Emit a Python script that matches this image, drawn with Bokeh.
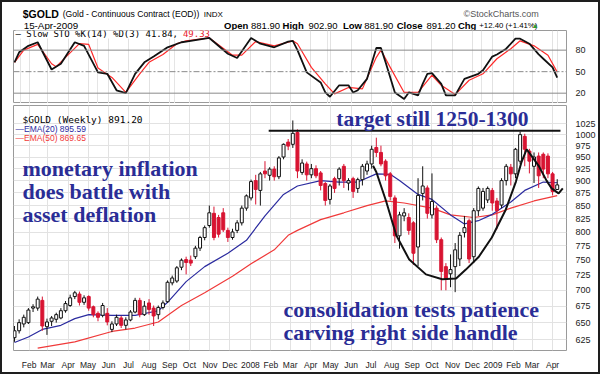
import pandas as pd
from bokeh.plotting import figure
from bokeh.layouts import column
from bokeh.models import ColumnDataSource, Range1d, FixedTicker, Grid, Span, BasicTickFormatter
from bokeh.core.properties import value
from bokeh.embed import file_html
from bokeh.resources import INLINE

# ---------------- data ----------------
first_week = "2007-01-19"   # week-ending date of the first weekly bar

opens = [628, 638, 648, 650, 672, 672, 684, 644, 652, 655,
         657, 668, 676, 690, 694, 681, 690, 674, 664, 661,
         664, 640, 648, 657, 646, 654, 666, 684, 662, 680,
         672, 662, 673, 682, 712, 715, 738, 751, 750, 756,
         771, 790, 812, 835, 827, 836, 803, 790, 803, 817,
         845, 865, 900, 880, 920, 911, 924, 908, 950, 983,
         978, 1005, 917, 935, 912, 925, 916, 894, 862, 904,
         904, 930, 895, 904, 884, 902, 920, 935, 971, 960,
         941, 914, 865, 793, 830, 827, 817, 773, 874, 885,
         832, 845, 786, 739, 727, 739, 752, 799, 821, 756,
         840, 845, 861, 880, 859, 851, 900, 928, 914, 941,
         996, 963, 930, 952, 956, 952, 914, 881.9]
highs = [645, 655, 662, 672, 678, 690, 690, 656, 660, 665,
         672, 683, 693, 699, 698, 692, 692, 676, 667, 680,
         672, 652, 662, 660, 658, 669, 688, 688, 683, 686,
         676, 676, 684, 716, 724, 740, 753, 756, 758, 775,
         793, 812, 850, 848, 832, 845, 808, 806, 822, 850,
         872, 902, 912, 918, 941, 928, 930, 952, 980, 990,
         1033, 1012, 945, 940, 935, 932, 920, 897, 893, 908,
         928, 935, 905, 908, 906, 935, 942, 975, 993, 975,
         945, 918, 870, 838, 845, 835, 820, 905, 930, 890,
         915, 850, 790, 745, 760, 780, 800, 830, 825, 845,
         888, 885, 888, 885, 865, 905, 935, 935, 970, 1007,
         1002, 968, 960, 960, 960, 958, 918, 902.9]
lows = [622, 634, 643, 648, 666, 668, 638, 632, 645, 650,
        655, 665, 674, 686, 676, 677, 668, 658, 652, 658,
        646, 636, 645, 642, 640, 652, 664, 658, 660, 662,
        645, 655, 670, 680, 708, 712, 733, 726, 740, 752,
        766, 785, 808, 785, 790, 800, 782, 786, 798, 812,
        840, 860, 852, 850, 905, 900, 900, 903, 945, 965,
        970, 905, 912, 900, 905, 905, 880, 850, 852, 875,
        890, 885, 880, 865, 875, 890, 912, 925, 950, 930,
        900, 860, 780, 770, 820, 795, 742, 740, 860, 825,
        825, 780, 700, 700, 705, 697, 740, 790, 745, 745,
        830, 840, 855, 840, 805, 845, 890, 890, 905, 935,
        930, 915, 895, 885, 905, 905, 870, 881.9]
closes = [638, 650, 658, 669, 674, 686, 645, 651, 657, 662,
          668, 679, 688, 696, 681, 688, 672, 662, 658, 676,
          651, 648, 658, 646, 654, 666, 684, 662, 675, 670,
          660, 673, 680, 713, 720, 737, 750, 746, 745, 771,
          790, 808, 836, 790, 796, 804, 790, 800, 817, 845,
          869, 898, 882, 914, 914, 924, 908, 948, 978, 974,
          1003, 920, 937, 912, 925, 910, 890, 860, 889, 884,
          924, 900, 900, 878, 902, 930, 935, 967, 960, 935,
          910, 868, 793, 832, 836, 803, 762, 870, 889, 835,
          858, 786, 731, 719, 734, 768, 794, 808, 752, 840,
          884, 878, 884, 855, 840, 900, 930, 914, 967, 1000,
          967, 941, 950, 910, 924, 914, 878, 891.2]

ema20_week = [0, 3, 6, 10, 13, 16, 21, 26, 31, 33, 37, 41, 46, 50, 54, 58, 61,
              66, 70, 74, 78, 81, 83, 87, 90, 94, 97, 100, 103, 107, 110, 114, 117]
ema20 = [621, 629, 640, 646, 656, 662, 661, 661, 668, 681, 714, 739, 762, 785, 830, 872, 889,
         900, 897, 897, 914, 913, 900, 872, 862, 832, 815, 821, 833, 857, 880, 897, 895.59]
ema50_week = [5, 13, 21, 26, 31, 36, 41, 47, 51, 56, 59, 61, 66, 71, 76, 80, 84, 90,
              94, 99, 103, 107, 112, 117]
ema50 = [613, 622, 637, 642, 651, 676, 696, 723, 744, 768, 794, 803, 823, 836, 850, 859, 855, 845,
         832, 827, 832, 845, 859, 869.65]

sto_k_week = [0, 1, 3, 5, 8, 10, 13, 15, 18, 20, 22, 24, 26, 28, 30, 33, 36, 37, 40, 42,
              46, 48, 51, 53, 56, 59, 60, 61, 63, 66, 67, 68, 70, 72, 73, 74, 76, 78, 79, 80,
              82, 84, 85, 87, 88, 89, 90, 92, 93, 95, 97, 100, 101, 103, 104, 106, 108, 109,
              111, 113, 114, 116, 117]
sto_k = [63, 77, 86, 91, 53, 61, 91, 86, 49, 47, 24, 20, 47, 63, 71, 84, 91, 92, 95, 97,
         75, 69, 97, 89, 84, 92, 93, 80, 49, 35, 21, 15, 31, 31, 21, 24, 40, 83, 83, 63,
         21, 12, 21, 17, 33, 47, 48, 33, 17, 17, 40, 47, 52, 71, 74, 82, 96, 96,
         89, 74, 68, 56, 41.84]
sto_d_week = [0, 2, 5, 8, 9, 11, 14, 16, 18, 21, 24, 27, 29, 32, 35, 37, 42, 47, 49, 52,
              56, 60, 61, 64, 67, 69, 72, 75, 78, 79, 81, 84, 87, 90, 92, 95, 98, 101, 104, 107,
              109, 112, 115, 117]
sto_d = [63, 80, 88, 61, 57, 70, 89, 88, 55, 42, 21, 47, 63, 74, 89, 93, 97, 73, 73, 92,
         86, 93, 89, 56, 33, 19, 28, 26, 70, 80, 56, 21, 21, 45, 31, 18, 38, 47, 68, 82,
         93, 86, 73, 49.33]

# hand-drawn cup & handle and the target line (week number, price)
cup_week = [77.3, 78.0, 80.1, 82.3, 85.1, 88.7, 92.2, 95.2, 97.3, 100.1, 102.9, 105.9,
            108.1, 109.3, 110.4, 111.5, 113.0, 114.7, 115.8, 117.3, 118.2]
cup_price = [931, 918, 859, 794, 751, 726, 718, 719, 734, 756, 790, 842,
             898, 939, 967, 952, 931, 900, 884, 874, 884]
target_week = [54.8, 117.7]
target_price = [1009, 1009]

month_dates = ["2007-02-10", "2007-03-10", "2007-04-10", "2007-05-10", "2007-06-10", "2007-07-10",
               "2007-08-10", "2007-09-10", "2007-10-10", "2007-11-10", "2007-12-10", "2008-01-10",
               "2008-02-10", "2008-03-10", "2008-04-10", "2008-05-10", "2008-06-10", "2008-07-10",
               "2008-08-10", "2008-09-10", "2008-10-10", "2008-11-10", "2008-12-10", "2009-01-10",
               "2009-02-10", "2009-03-10", "2009-04-10"]
month_labels = ["Feb", "Mar", "Apr", "May", "Jun", "Jul", "Aug", "Sep", "Oct", "Nov", "Dec", "2008",
                "Feb", "Mar", "Apr", "May", "Jun", "Jul", "Aug", "Sep", "Oct", "Nov", "Dec", "2009",
                "Feb", "Mar", "Apr"]
price_ticks = [625, 650, 675, 700, 725, 750, 775, 800, 825, 850, 875, 900, 925, 950, 975, 1000, 1025]
sto_ticks = [20, 50, 80]

# ---------------- helpers ----------------
DAY = 86400000.0
def ms(s):
    return pd.Timestamp(s).value / 1e6
T0 = ms(first_week)
def wk(w):
    return T0 + w * 7 * DAY

RED = "#d81432"
NAVY = "#2b2b9f"
EMA_RED = "#f03a3a"
NOTE = "#2a2d96"
GRID = "#e2e2e2"
SANS = "Liberation Sans"
MONO = "DejaVu Sans Mono"
SERIF = "Liberation Serif"

def add_text(fig, x, y, s, size, color="#000000", font=SANS, style="normal",
             align="left", baseline="middle", bg=None):
    kw = {}
    if bg is not None:
        kw["background_fill_color"] = bg
    fig.text(x=[x], y=[y], text=[s], text_font=value(font), text_font_size=value(f"{size}px"),
             text_font_style=style, text_color=color, text_align=align,
             text_baseline=baseline, **kw)

month_ms = [ms(d) for d in month_dates]
x_range = Range1d(ms("2007-01-17 12:00"), ms("2009-05-01"))

W = 596  # inner width (page has a 2px dark frame around the chart)

# ---------------- header ----------------
hdr = figure(width=W, height=28, x_range=Range1d(2, 598), y_range=Range1d(30, 2),
             toolbar_location=None, output_backend="svg", x_axis_location=None,
             y_axis_location=None, min_border=0, outline_line_color=None)
hdr.grid.visible = False
add_text(hdr, 12, 13, "$GOLD", 10.5, style="bold")
add_text(hdr, 55, 13.5, "(Gold - Continuous Contract (EOD))", 8.6)
add_text(hdr, 207, 13.5, "INDX", 8)
add_text(hdr, 568, 13.5, "\u00a9StockCharts.com", 9, color="#555555", align="right")
add_text(hdr, 13, 25, "15-Apr-2009", 9.8)
hdr_items = [(229, "Open", "bold"), (258, "881.90", "normal"), (292, "High", "bold"),
             (320, "902.90", "normal"), (357, "Low", "bold"), (380, "881.90", "normal"),
             (415, "Close", "bold"), (447, "891.20", "normal"), (481, "Chg", "bold")]
for hx, ht, hs in hdr_items:
    add_text(hdr, hx, 25, ht, 9.5, style=hs)
add_text(hdr, 504, 25, "+12.40 (+1.41%)", 7.8)
add_text(hdr, 568, 25, "\u25b2", 7, color="#2e9e2e", align="right")

# ---------------- stochastic panel ----------------
sto = figure(width=W, height=73, x_range=x_range, y_range=Range1d(5.6, 107.4),
             toolbar_location=None, output_backend="svg", x_axis_location=None,
             y_axis_location="right", min_border_left=11, min_border_right=30,
             min_border_top=0, min_border_bottom=0, outline_line_color="#9a9a9a")
sto.ygrid.visible = False
sto.add_layout(Grid(dimension=0, ticker=FixedTicker(ticks=month_ms), grid_line_color=GRID))
sto.yaxis.ticker = FixedTicker(ticks=sto_ticks)
for ax in sto.yaxis:
    ax.axis_line_color = None
    ax.major_tick_line_color = None
    ax.minor_tick_line_color = None
    ax.major_label_standoff = 3
    ax.major_label_text_font = SANS
    ax.major_label_text_font_size = "9px"
    ax.major_label_text_color = "#222222"
sto.add_layout(Span(location=80, dimension="width", line_color="#8a8a8a", line_width=1))
sto.add_layout(Span(location=20, dimension="width", line_color="#8a8a8a", line_width=1))
sto.add_layout(Span(location=50, dimension="width", line_color="#8a8a8a", line_width=1,
                    line_dash="6 2 2 2"))
sto.line([wk(w) for w in sto_d_week], sto_d, line_color="#ff2a2a", line_width=1.2)
sto.line([wk(w) for w in sto_k_week], sto_k, line_color="#111111", line_width=1.8)
add_text(sto, wk(0.21), 103.2, "\u2014 Slow STO %K(14) %D(3) 41.84, ", 9, font=MONO, bg="white")
add_text(sto, wk(36.3), 103.2, "49.33", 9, color="#e8202a", font=MONO, bg="white")

# ---------------- price panel ----------------
main = figure(width=W, height=269, x_range=x_range, y_range=Range1d(609.8, 1069),
              y_axis_type="log", y_axis_location="right", toolbar_location=None,
              output_backend="svg", min_border_left=11, min_border_right=30,
              min_border_top=2, min_border_bottom=16, outline_line_color="#9a9a9a")
main.yaxis.ticker = FixedTicker(ticks=price_ticks)
main.yaxis.formatter = BasicTickFormatter(use_scientific=False)
main.ygrid.ticker = FixedTicker(ticks=price_ticks)
main.xaxis.ticker = FixedTicker(ticks=month_ms)
main.xgrid.ticker = FixedTicker(ticks=month_ms)
main.xaxis.major_label_overrides = {m: lab for m, lab in zip(month_ms, month_labels)}
main.grid.grid_line_color = GRID
main.grid.minor_grid_line_color = None
for ax in list(main.xaxis) + list(main.yaxis):
    ax.axis_line_color = None
    ax.major_tick_line_color = None
    ax.minor_tick_line_color = None
    ax.major_label_text_font = SANS
    ax.major_label_text_color = "#222222"
for ax in main.yaxis:
    ax.major_label_standoff = 3
    ax.major_label_text_font_size = "9px"
for ax in main.xaxis:
    ax.major_label_standoff = 3
    ax.major_label_text_font_size = "8.5px"

up = [c >= o for o, c in zip(opens, closes)]
src = ColumnDataSource(dict(
    x=[wk(i) for i in range(len(closes))],
    top=[max(o, c) for o, c in zip(opens, closes)],
    bottom=[min(o, c) for o, c in zip(opens, closes)],
    high=highs, low=lows,
    fill=["white" if u else RED for u in up],
    edge=["#111111" if u else RED for u in up],
))
main.line([wk(w) for w in ema50_week], ema50, line_color=EMA_RED, line_width=1.2)
main.line([wk(w) for w in ema20_week], ema20, line_color=NAVY, line_width=1.2)
main.segment(x0="x", y0="low", x1="x", y1="high", line_color="edge", line_width=1, source=src)
main.vbar(x="x", width=4.5 * DAY, top="top", bottom="bottom", fill_color="fill",
          line_color="edge", line_width=1, source=src)
main.line([wk(w) for w in cup_week], cup_price, line_color="#111111", line_width=2)
main.line([wk(w) for w in target_week], target_price, line_color="#111111", line_width=2)

# legend texts
add_text(main, wk(1.72), 1036, "$GOLD (Weekly) 891.20", 9.5, font=MONO)
add_text(main, wk(0.21), 1012, "\u2014EMA(20) 895.59", 8.5, color=NAVY)
add_text(main, wk(0.21), 992, "\u2014EMA(50) 869.65", 8.5, color=EMA_RED)

# annotations
add_text(main, wk(90.1), 1036, "target still 1250-1300", 21.5, color=NOTE, font=SERIF,
         style="bold", align="center", baseline="alphabetic")
for s, p in [("monetary inflation", 925.6), ("does battle with", 878), ("asset deflation", 833)]:
    add_text(main, wk(1.72), p, s, 22, color=NOTE, font=SERIF, style="bold", baseline="alphabetic")
for s, p in [("consolidation tests patience", 669.9), ("carving right side handle", 634.9)]:
    add_text(main, wk(58.0), p, s, 22, color=NOTE, font=SERIF, style="bold", baseline="alphabetic")

layout = column(hdr, sto, main, styles={"border": "2px solid #1e1e1e"})
open("out.html", "w").write(file_html(layout, INLINE))
